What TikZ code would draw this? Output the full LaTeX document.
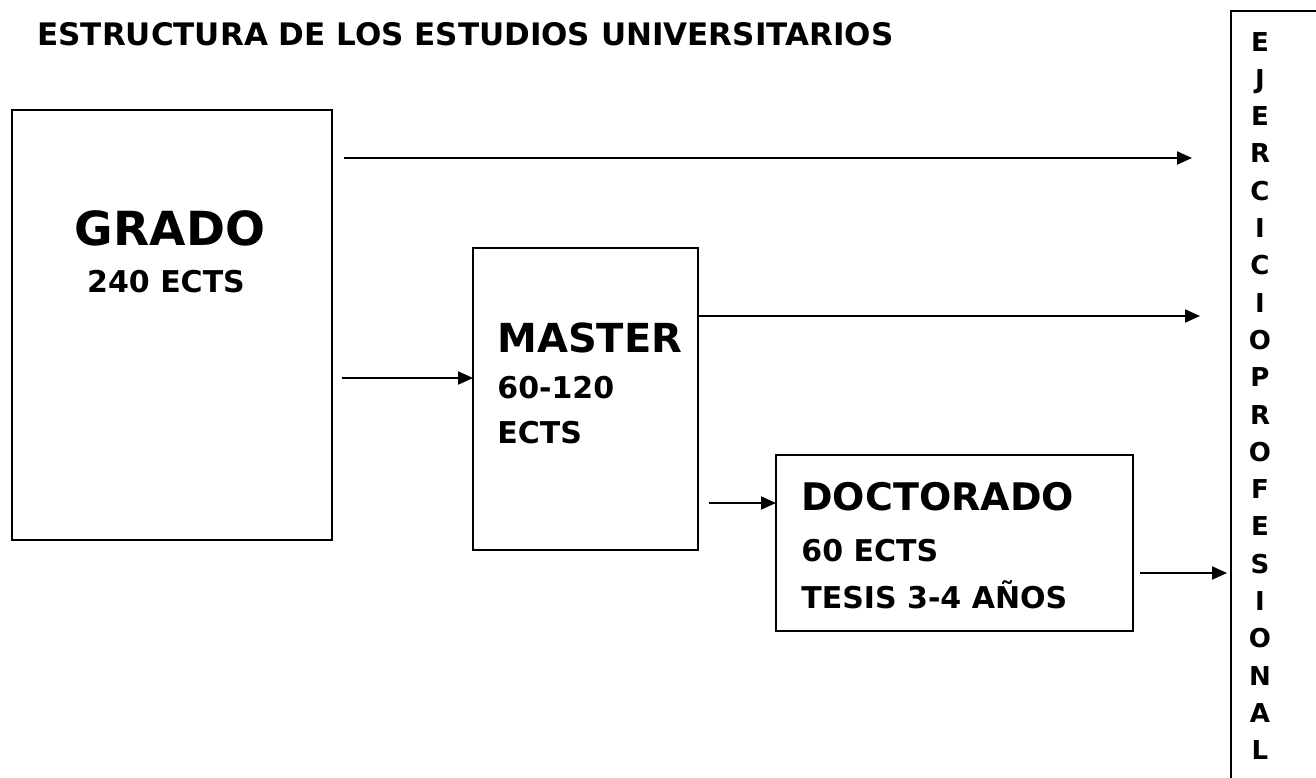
\documentclass[tikz,border=0pt]{standalone}
\usepackage{fontspec}
\setmainfont{DejaVu Sans}
\usetikzlibrary{arrows.meta}
\tikzset{
  caja/.style={draw, line width=0.8pt, inner sep=0pt},
  flecha/.style={-{Triangle[length=7.5pt,width=6.5pt]}, line width=1pt},
  titulo/.style={font=\bfseries\fontsize{15.5}{18}\selectfont, anchor=base west, inner sep=0pt},
  grande/.style={font=\bfseries\fontsize{20}{24}\selectfont, anchor=base west, inner sep=0pt},
  dato/.style={font=\bfseries\fontsize{15}{18}\selectfont, anchor=base west, inner sep=0pt},
  letra/.style={font=\bfseries\fontsize{13}{15}\selectfont, anchor=base, inner sep=0pt},
}
\begin{document}
\begin{tikzpicture}[x=0.5pt,y=-0.5pt]
  \clip (0,0) rectangle (1316,777);
  \node[titulo] (titulo) at (37,45) {ESTRUCTURA DE LOS ESTUDIOS UNIVERSITARIOS};
  % cajas
  \node[caja, minimum width=160pt, minimum height=215pt] (grado) at (172,325) {};
  \node[caja, minimum width=112.5pt, minimum height=151pt] (master) at (585.5,399) {};
  \node[caja, minimum width=178.5pt, minimum height=88pt] (doctorado) at (954.5,543) {};
  \node[caja, minimum width=50pt, minimum height=400pt, anchor=north west] (ejercicio) at (1230,10) {};
  % textos
  \node[grande, font=\bfseries\fontsize{23.5}{28}\selectfont, anchor=base] (gradot) at (170,245) {GRADO};
  \node[dato, anchor=base] (gradoc) at (166,292) {240 ECTS};
  \node[grande] (mastert) at (497,352) {MASTER};
  \node[dato] (masterc) at (497,398) {60-120};
  \node[dato] (mastere) at (497,443) {ECTS};
  \node[grande, font=\bfseries\fontsize{19}{23}\selectfont] (doctoradot) at (801,510) {DOCTORADO};
  \node[dato] (doctoradoc) at (801,561) {60 ECTS};
  \node[dato] (doctoradoe) at (801,608) {TESIS 3-4 AÑOS};
  \foreach \l [count=\i from 0] in {E,J,E,R,C,I,C,I,O,P,R,O,F,E,S,I,O,N,A,L}
    \node[letra] (l\i) at (1260,{51+37.3*\i}) {\l};
  % flechas
  \coordinate (f1) at (1192,158);
  \coordinate (e2) at (473,378);
  \coordinate (f3) at (1200,316);
  \coordinate (e4) at (776,503);
  \coordinate (f5) at (1227,573);
  \begin{scope}[flecha]
    \draw[shorten <=5.5pt] (grado.east |- f1) -- (f1);
    \draw[shorten <=4.5pt] (grado.east |- e2) -- (e2);
    \draw (master.east |- f3) -- (f3);
    \draw[shorten <=5pt] (master.east |- e4) -- (e4);
    \draw[shorten <=3pt] (doctorado.east |- f5) -- (f5);
  \end{scope}
\end{tikzpicture}
\end{document}
